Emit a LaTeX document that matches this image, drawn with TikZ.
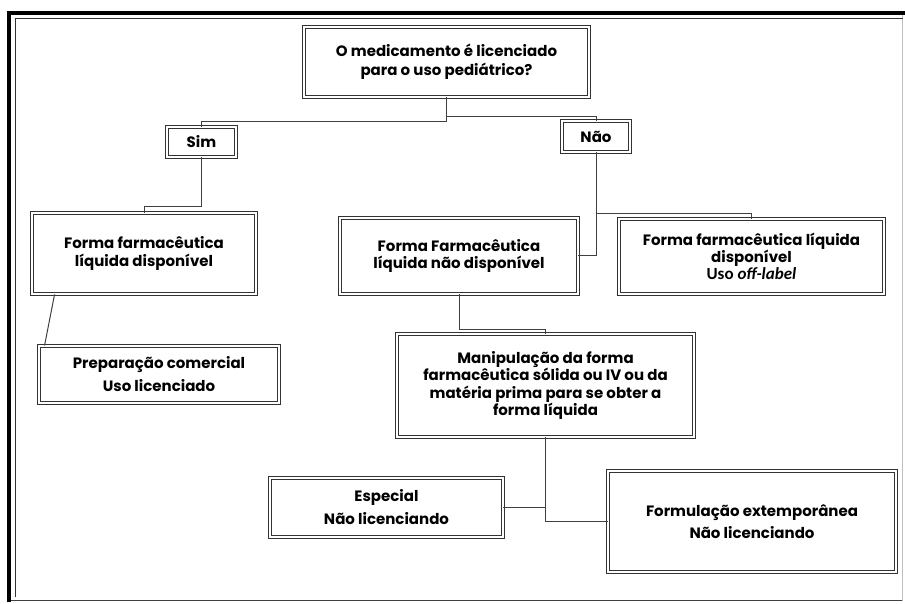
\documentclass[tikz,border=0pt]{standalone}
\usepackage{fontspec}
\setmainfont{Poppins}
\newfontfamily\calfont{Carlito}
\usetikzlibrary{shadows,calc}
\tikzset{
  box/.style={draw=black!80, line width=0.9pt, double=white, double distance=1.5pt,
    fill=white, drop shadow={shadow xshift=1.5pt, shadow yshift=-1.5pt, fill=black, opacity=0.3},
    align=center, inner sep=0pt, text=black,
    font=\bfseries\fontsize{15}{19}\selectfont},
  link/.style={draw=black!75, line width=1pt}
}
\begin{document}
\begin{tikzpicture}[x=1pt,y=-1pt]
\useasboundingbox (0,0) rectangle (905,604);
% outer frame
\draw[black!75, line width=1.6pt] (9,600.5) -- (903,600.5);
\draw[black!25, line width=1pt] (902,13) -- (902,601);
\draw[black, line width=4pt] (9,602) -- (9,13) -- (905,13);
\draw[black!80, line width=0.9pt] (15,597) -- (15,18.5) -- (903,18.5);
% nodes
\node[box, minimum width=285, minimum height=70] (q) at (446.5,62)
  {O medicamento é licenciado\\para o uso pediátrico?};
\node[box, minimum width=69, minimum height=30] (sim) at (201.5,142) {Sim};
\node[box, minimum width=68, minimum height=31] (nao) at (596,136.5) {Não};
\node[box, minimum width=224, minimum height=81] (lf) at (144,253.5)
  {Forma farmacêutica\\[-1pt]líquida disponível};
\node[box, minimum width=240, minimum height=57] (prep) at (159,374.5)
  {Preparação comercial\\[4pt]Uso licenciado};
\node[box, minimum width=238, minimum height=76] (mf) at (459,256)
  {Forma Farmacêutica\\[-2pt]líquida não disponível};
\node[box, minimum width=265, minimum height=75] (rf) at (751.5,256.5)
  {Forma farmacêutica líquida\\[-2pt]disponível\\[-2pt]{\calfont\fontsize{17}{17}\selectfont Uso \textit{off-label}}};
\node[box, minimum width=297, minimum height=103] (man) at (545.5,385.5)
  {Manipulação da forma\\[-1.5pt]farmacêutica sólida ou IV ou da\\[-1.5pt]matéria prima para se obter a\\[-1.5pt]forma líquida};
\node[box, minimum width=233, minimum height=59] (esp) at (386.5,507.5)
  {Especial\\[4pt]Não licenciando};
\node[box, minimum width=288, minimum height=101] (formu) at (752,521.5)
  {Formulação extemporânea\\[3pt]Não licenciando};
% connectors
\draw[link] (q.south) -- (q.south |- 0,122) -| (sim.north);
\draw[link] (q.south |- 0,117) -| (nao.north);
\draw[link] (sim.south) -- (sim.south |- 0,207) -| (lf.north);
\draw[link] ($(lf.south west)+(23,0)$) -- ($(prep.north west)+(6,0)$);
\draw[link] (nao.south) |- (mf.east);
\draw[link] (nao.south |- 0,214) -| (rf.north);
\draw[link] (mf.south) -- (mf.south |- 0,329) -| (man.north);
\draw[link] (man.south) |- (formu.west);
\draw[link] (man.south |- esp.east) -- (esp.east);
\end{tikzpicture}
\end{document}
